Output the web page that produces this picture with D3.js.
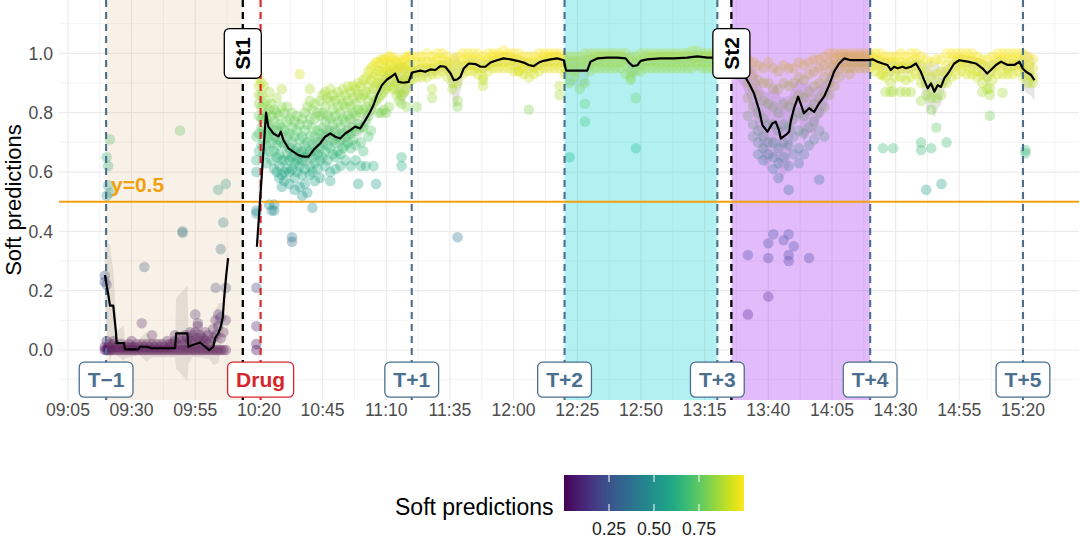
<!DOCTYPE html>
<html><head><meta charset="utf-8">
<script src="https://cdn.jsdelivr.net/npm/d3@7"></script>
<style>body{margin:0;background:#fff;} svg{display:block;font-family:"Liberation Sans",Arial,Helvetica,sans-serif;}</style>
</head><body><svg id="c" width="1080" height="540"></svg>
<script>
// ---------------- DATA (times are minutes since midnight) ----------------
const xTickLabels = ["09:05","09:30","09:55","10:20","10:45","11:10","11:35","12:00","12:25","12:50","13:15","13:40","14:05","14:30","14:55","15:20"];
const yTickValues = [0, 0.2, 0.4, 0.6, 0.8, 1.0];
const legendTickValues = [0.25, 0.5, 0.75];
const threshold = 0.5;

const markerNames = ["T\u22121","T+1","T+2","T+3","T+4","T+5"];
const markerTimes = ["09:20","11:20","12:20","13:20","14:20","15:20"];
const stageNames = ["St1","St2"];
const stageTimes = ["10:13:40","13:25:30"];
const drugName = "Drug";
const drugTime = "10:20:40";
const shadeStarts = ["09:20","12:20","13:25:30"];
const shadeEnds   = ["10:13:40","13:20","14:20"];

// rolling mean: [time, value, ribbon half-width]
const trendA = [[559.5,.253,.10],[560.8,.19,.17],[561.5,.15,.2],[562.8,.15,.12],[563.9,.057,.06],[564.1,.023,.04],[567.0,.023,.06],[567.4,.002,.03],[572.6,.002,.02],[573.3,.011,.03],[575.9,.011,.05],[577.9,.006,.03],[587.1,.006,.03],[587.5,.056,.12],[591.9,.056,.16],[592.3,.011,.06],[594.0,.017,.04],[596.9,.025,.05],[598.9,.011,.04],[600.5,0,.03],[602.1,.011,.06],[602.8,.04,.09],[604.1,.057,.1],[605.0,.079,.08],[605.8,.11,.05],[606.3,.17,.04],[607.1,.247,.03],[607.9,.31,.03]];
const trendB = [[619.2,.348,.03],[622.8,.80,.03],[623.7,.753,.03],[625.7,.73,.03],[627.7,.72,.03],[628.6,.736,.03],[629.6,.708,.03],[631.6,.68,.03],[633.6,.668,.03],[635.5,.657,.03],[637.5,.652,.03],[639.5,.652,.03],[641.4,.674,.03],[644.1,.697,.03],[646.0,.719,.03],[648.0,.73,.03],[650.0,.719,.03],[651.9,.713,.03],[653.9,.73,.03],[655.9,.741,.03],[657.8,.753,.03],[659.8,.747,.03],[661.8,.775,.03],[663.7,.803,.03],[665.0,.826,.03],[666.4,.86,.03],[668.3,.893,.03],[670.3,.912,.03],[672.2,.923,.03],[673.5,.932,.03],[674.8,.904,.06],[676.8,.901,.07],[678.8,.904,.04],[680.1,.935,.02],[681.4,.938,.02],[683.4,.942,.02],[685.3,.938,.02],[687.3,.946,.02],[689.3,.944,.02],[691.2,.957,.02],[693.2,.955,.02],[695.2,.933,.05],[696.5,.91,.09],[697.8,.912,.09],[699.1,.921,.05],[700.4,.949,.02],[702.4,.966,.02],[705.0,.964,.02],[707.0,.955,.02],[708.9,.955,.02],[710.9,.969,.02],[713.5,.977,.02],[716.1,.983,.02],[718.8,.98,.02],[721.4,.975,.02],[724.0,.969,.02],[725.9,.961,.02],[727.9,.957,.02],[729.9,.969,.02],[731.8,.975,.02],[734.5,.98,.02],[737.1,.983,.02],[739.7,.977,.02],[740.6,.942,.05],[748.9,.942,.05],[750.2,.972,.02],[752.8,.983,.02],[756.8,.986,.02],[760.7,.986,.02],[764.0,.983,.02],[765.3,.969,.03],[766.8,.957,.04],[768.6,.96,.03],[769.9,.975,.02],[772.5,.98,.02],[777.7,.983,.02],[782.9,.983,.02],[788.2,.986,.02],[792.1,.99,.02],[796.1,.986,.02],[798.0,.986,.02],[805,.975,.03],[810,.935,.05],[812.4,.899,.06],[814.4,.865,.08],[816.4,.809,.1],[817.7,.758,.12],[819.7,.736,.13],[821.6,.764,.12],[822.9,.77,.12],[824.2,.741,.13],[824.9,.713,.14],[826.9,.725,.13],[828.2,.736,.12],[828.8,.77,.1],[830.1,.815,.08],[831.7,.854,.06],[832.7,.831,.08],[834.0,.798,.1],[836.0,.815,.08],[838.0,.803,.08],[839.9,.831,.06],[841.9,.854,.05],[843.9,.893,.04],[845.8,.938,.03],[847.8,.966,.02],[849.8,.983,.02],[852.4,.977,.02],[859.0,.977,.02],[860.9,.98,.02],[862.9,.972,.02],[864.9,.966,.02],[866.8,.961,.02],[868.1,.944,.03],[869.4,.955,.02],[870.8,.95,.02],[872.7,.955,.02],[874.0,.95,.02],[876.0,.955,.02],[878.0,.966,.02],[879.9,.938,.04],[881.2,.91,.06],[882.6,.882,.08],[883.9,.899,.08],[885.2,.871,.09],[886.5,.893,.08],[887.8,.887,.06],[889.1,.916,.04],[891.0,.938,.03],[893.0,.966,.02],[895.0,.977,.02],[898.3,.972,.02],[901.5,.966,.02],[904.2,.949,.03],[905.9,.932,.04],[907.4,.944,.03],[909.4,.961,.02],[911.4,.972,.02],[914.0,.961,.02],[916.6,.961,.02],[918.6,.972,.02],[919.9,.949,.06],[921.2,.938,.07],[923.2,.927,.07],[924.5,.91,.07]];

// soft predictions: [time, value, value, ...]
const pointRows = [
[559.5,.25,.23,.01,0],[560.2,.52,.65,.22,.03,0],[560.8,.62,.555,.01,0],[561.5,.71,.53,0,.02],
[562,0,.01],[563,0,.02,.03],[564,0,.01],[565,0,.01],[566,0,.02],[567,0,.01],[568,0,.01],[569,0,.02],[570,0,.01,.03],[571,0,.01],[572,0,.02],[573,0,.01],[574,0,.02,.09],[575,0,.01,.28],[576,0,.02],[577,0,.01],[578,0,.02,.05],[579,0,.01],[580,0,.02],[581,0,.01],[582,0,.02],[583,0,.01],[584,0,.03],[585,0,.01,.02],[586,0,.02],[587,0,.03,.05],[588,0,.02],[589,0,.04,.74],[590,0,.02,.4,.395,.03],[591,0,.05],[592,0,.02,.04],[593,0,.03,.06],[594,0,.05,.03],[595,0,.02,.06,.12],[596,0,.04,.08,.09],[597,0,.03,.05],[598,0,.02,.04],[599,0,.06,.03],[600,0,.02,.05],[601,0,.03],[602,0,.04,.07],[603,0,.05,.21,.1],[604,0,.08,.12,.54],[605,0,.04,.11,.34],[606,0,.06,.43],[607,0,.1,.21,.56],
[619,.47,.46,.21,.08,.02,0,.64,.6,.72],[620,.92,.89,.86,.83,.79,.73,.67],[621,.9,.86,.82,.78,.75,.69],[622,.89,.83,.79,.74,.71,.66],[623,.84,.8,.78,.73,.69,.63],[624,.87,.81,.76,.72,.67,.49],[625,.83,.79,.74,.7,.64,.47],[626,.81,.77,.72,.67,.61,.49,.47],[627,.85,.8,.74,.69,.65,.6],[628,.79,.76,.71,.66,.62,.58],[629,.88,.82,.75,.7,.64,.59,.55],[630,.8,.74,.69,.64,.6,.57],[631,.82,.77,.72,.66,.61],[632,.78,.73,.68,.64,.6,.56],[633,.8,.75,.7,.65,.61,.38,.365],[634,.77,.72,.67,.63,.58,.54],[635,.79,.74,.68,.64,.6],[636,.93,.76,.71,.66,.62,.55],[637,.78,.72,.67,.64,.59,.52],[638,.8,.74,.69,.65,.61,.56],[639,.82,.76,.7,.66,.53],[640,.88,.84,.78,.72,.67,.62,.59],[641,.81,.75,.69,.65,.6,.48],[642,.83,.78,.72,.67,.63,.57],[643,.8,.74,.7,.66,.61],[644,.84,.79,.73,.68,.64,.58],[645,.86,.8,.75,.7,.65],[646,.87,.82,.77,.72,.67,.62],[647,.85,.79,.74,.69,.64],[648,.88,.84,.78,.73,.68,.6,.57],[649,.86,.81,.76,.71,.66],[650,.84,.79,.74,.7,.65,.61],[651,.87,.82,.77,.72,.67],[652,.85,.8,.75,.71,.66,.62],[653,.88,.83,.78,.73,.68],[654,.86,.82,.77,.72,.69,.64],[655,.89,.84,.79,.74,.7],[656,.87,.82,.78,.73,.68,.62],[657,.89,.85,.8,.75,.71],[658,.88,.83,.79,.74,.69,.64],[659,.9,.86,.81,.76,.56],[660,.89,.85,.8,.75,.7,.62],[661,.91,.86,.81,.75,.67],[662,.92,.87,.82,.77,.62],[663,.94,.89,.84,.79,.72],[664,.95,.91,.86,.81,.74],[665,.96,.92,.88,.83,.62],[666,.97,.93,.89,.84,.56],[667,.97,.94,.9,.85,.8],[668,.98,.94,.9,.86,.8],[669,.98,.95,.91,.87,.81],[670,.98,.95,.92,.88,.8],[671,.99,.96,.93,.89,.82],[672,.99,.96,.93,.89],[673,.98,.95,.92,.88],[674,.97,.94,.9,.86],[675,.98,.95,.91,.87,.84],[676,.97,.94,.9,.86,.83,.65,.62],[677,.98,.95,.91,.87],[678,.99,.96,.92,.88,.82],[679,.99,.96,.93,.9],
[680,.99,.96,.94,.91],[682,.99,.97,.94,.92,.82],[684,.99,.97,.95,.92],[686,1.0,.97,.95,.92],[688,.99,.97,.95,.93,.85,.88],[690,1.0,.98,.96,.93],[692,1.0,.98,.96,.94],[694,.99,.97,.95,.92],[696,.98,.96,.93,.9,.88],[698,.99,.96,.93,.9,.84,.82,.38],[700,1.0,.98,.96,.93],[702,1.0,.98,.96,.94],[704,1.0,.98,.96,.94],[706,1.0,.98,.95,.93],[708,.99,.97,.95,.92,.89,.91],[710,1.0,.98,.96,.94],[712,1.0,.99,.97,.95],[714,1.0,.99,.97,.95],[716,1.01,.99,.97,.95],[718,1.0,.99,.97,.95],[720,1.0,.98,.96,.94],[722,1.0,.98,.96,.94,.94],[724,.99,.97,.95,.93],[726,.99,.97,.95,.92,.81],[728,.99,.97,.95,.93],[730,1.0,.98,.96,.94],[732,1.0,.99,.97,.95],[734,1.0,.99,.97,.95],[736,1.0,.99,.97,.95],[738,1.0,.99,.97,.95,.89,.86],[740,.99,.97,.95,.93],
[742,.99,.97,.95,.9,.65],[744,.99,.97,.94,.92],[746,.99,.97,.95,.88],[748,1.0,.98,.96,.83,.77,.9],[750,1.0,.98,.96,.94],[752,1.0,.99,.97,.95],[754,1.0,.99,.97,.95],[756,1.0,.99,.97,.95],[758,1.0,.99,.97,.95],[760,1.0,.99,.97,.95],[762,1.0,.99,.97,.95],[764,1.0,.98,.96,.93],[766,.99,.97,.94,.92,.91],[768,.99,.97,.94,.85,.68],[770,1.0,.98,.96,.94],[772,1.0,.99,.97,.95],[774,1.0,.99,.97,.95],[776,1.0,.99,.97,.95],[778,1.0,.99,.97,.95],[780,1.0,.99,.97,.95],[782,1.0,.99,.97,.95],[784,1.0,.99,.97,.95],[786,1.0,.99,.97,.95],[788,1.0,.99,.97,.95],[790,1.01,.99,.97,.95],[792,1.01,.99,.97,.96],[794,1.0,.99,.97,.95],[796,1.0,.99,.97,.95],[798,1.0,.99,.97,.95],[800,1.0,.98,.96],
[812,.98,.95,.9,.85,.79,.32,.12],[814,.97,.93,.88,.82,.76,.72],[816,.96,.91,.86,.8,.74,.7,.66],[818,.95,.9,.84,.78,.72,.68,.64],[820,.97,.9,.83,.76,.7,.66,.36,.18,.31],[822,.95,.88,.82,.76,.7,.65,.61,.39],[824,.94,.88,.8,.74,.68,.63,.58],[826,.96,.9,.83,.76,.7,.65,.37],[828,.95,.89,.82,.75,.69,.62,.54,.39,.32,.30],[830,.95,.9,.84,.78,.72,.66,.35],[832,.97,.92,.86,.8,.74,.68,.63],[834,.96,.91,.85,.79,.73,.66],[836,.97,.93,.87,.81,.75,.69,.31],[838,.98,.94,.89,.83,.77,.71],[840,.98,.95,.9,.85,.8,.74,.575],[842,.99,.96,.92,.87,.82,.72],[844,1.0,.97,.94,.9,.86],[846,1.0,.98,.96,.93,.89],[848,1.0,.99,.97,.95,.92],[850,1.0,.99,.97,.95],[852,1.0,.99,.97,.95,.93],[854,1.0,.99,.97,.95],[856,1.0,.99,.97,.95],[858,1.0,.99,.97,.95],[860,1.0,.99,.97,.95],
[862,1.0,.98,.96,.94],[864,1.0,.98,.96,.93],[865,.927,.68],[866,.99,.97,.95,.92,.87],[868,.99,.97,.94,.9,.87],[869,.68,.871],[870,.99,.97,.95,.92],[872,1.0,.97,.95,.92,.871],[874,.99,.97,.95,.91,.87],[876,1.0,.97,.95,.92,.87],[878,1.0,.98,.96,.93],[880,.99,.96,.93,.9,.84,.7,.674],[882,.98,.94,.9,.86,.54],[884,.97,.92,.88,.85,.81,.68],[886,.98,.93,.89,.85,.75],[888,.98,.94,.9,.86,.56],[890,1.0,.96,.93,.9,.7],[892,1.0,.98,.95,.92],[894,1.0,.98,.96,.93],[896,1.0,.98,.96,.94],[898,1.0,.98,.96,.93],[900,1.0,.98,.95,.93],[902,.99,.97,.94,.92],[904,.98,.96,.93,.9,.87],[906,.98,.95,.92,.88],[907,.79,.882,.86],[908,.99,.96,.94,.91],[910,1.0,.98,.96,.93],[912,1.0,.98,.96,.93,.867],[914,1.0,.98,.95,.93],[916,1.0,.98,.96,.93],[918,1.0,.98,.96,.94],[920,1.0,.97,.95,.92],[921,.674,.663],[922,.99,.96,.93,.9],[924,.98,.95,.92,.9]
];

// ---------------- DRAWING ----------------
const svg = d3.select("#c");
const PL = 59, PR = 1079, PT = 0, PB = 400;
const toDate = m => new Date(2000, 0, 1, 0, 0, Math.round(m * 60));
const hm = s => { const p = s.split(":").map(Number); return p[0] * 60 + p[1] + (p[2] || 0) / 60; };
const x = d3.scaleTime().domain([toDate(541.5), toDate(942)]).range([PL, PR]);
const y = d3.scaleLinear().domain([-0.1685, 1.18]).range([PB, PT]);
const color = d3.scaleSequential(d3.interpolateViridis).domain([0, 1]).clamp(true);
const X = m => x(toDate(m));

svg.append("defs").append("clipPath").attr("id", "panel")
  .append("rect").attr("x", PL).attr("y", PT).attr("width", PR - PL).attr("height", PB - PT);

// grid
const grid = svg.append("g").attr("clip-path", "url(#panel)");
const xMajor = xTickLabels.map(hm);
const xMinor = xMajor.map(m => m + 12.5).concat([xMajor[0] - 12.5]);
const yMinor = d3.range(-0.1, 1.15, 0.2);
grid.selectAll(".vmin").data(xMinor).join("line")
  .attr("x1", X).attr("x2", X).attr("y1", PT).attr("y2", PB).attr("stroke", "#ebebeb").attr("stroke-width", 0.6);
grid.selectAll(".hmin").data(yMinor).join("line")
  .attr("x1", PL).attr("x2", PR).attr("y1", d => y(d)).attr("y2", d => y(d)).attr("stroke", "#ebebeb").attr("stroke-width", 0.6);
grid.selectAll(".vmaj").data(xMajor).join("line")
  .attr("x1", X).attr("x2", X).attr("y1", PT).attr("y2", PB).attr("stroke", "#ebebeb").attr("stroke-width", 1.2);
grid.selectAll(".hmaj").data(yTickValues).join("line")
  .attr("x1", PL).attr("x2", PR).attr("y1", d => y(d)).attr("y2", d => y(d)).attr("stroke", "#ebebeb").attr("stroke-width", 1.2);

const plot = svg.append("g").attr("clip-path", "url(#panel)");

// ribbon
const area = d3.area().x(d => X(d[0])).y0(d => y(d[1] - d[2])).y1(d => y(d[1] + d[2]));
[trendA, trendB].forEach(seg => plot.append("path").attr("d", area(seg)).attr("fill", "#c8c8c8").attr("fill-opacity", 0.45));

// points
const pts = pointRows.flatMap(r => r.slice(1).map(v => ({ t: r[0], v })));
plot.append("g").selectAll("circle").data(pts).join("circle")
  .attr("cx", d => X(d.t)).attr("cy", d => y(d.v)).attr("r", 5.3)
  .attr("fill", d => color(d.v)).attr("fill-opacity", 0.34);

// shaded periods
const shadeFill = ["rgb(222,184,135)", "rgb(0,206,209)", "rgb(160,32,240)"];
const shadeOp = [0.2, 0.3, 0.3];
plot.selectAll(".shade").data(shadeStarts).join("rect")
  .attr("x", (d, i) => X(hm(d))).attr("width", (d, i) => X(hm(shadeEnds[i])) - X(hm(d)))
  .attr("y", PT).attr("height", PB - PT)
  .attr("fill", (d, i) => shadeFill[i]).attr("fill-opacity", (d, i) => shadeOp[i]);

// threshold
const orange = "#F2A10D";
plot.append("line").attr("x1", PL).attr("x2", PR).attr("y1", y(threshold)).attr("y2", y(threshold))
  .attr("stroke", orange).attr("stroke-width", 2);

// vertical markers
const steel = "#4b6f8e";
plot.selectAll(".tl").data(markerTimes).join("line")
  .attr("x1", d => X(hm(d))).attr("x2", d => X(hm(d))).attr("y1", PT).attr("y2", PB)
  .attr("stroke", steel).attr("stroke-width", 2.1).attr("stroke-dasharray", "7,5");
plot.selectAll(".sl").data(stageTimes).join("line")
  .attr("x1", d => X(hm(d))).attr("x2", d => X(hm(d))).attr("y1", PT).attr("y2", PB)
  .attr("stroke", "#000").attr("stroke-width", 2.3).attr("stroke-dasharray", "7,5");
const red = "#D6262B";
plot.append("line").attr("x1", X(hm(drugTime))).attr("x2", X(hm(drugTime))).attr("y1", PT).attr("y2", PB)
  .attr("stroke", red).attr("stroke-width", 2.1).attr("stroke-dasharray", "7,5");

// trend line
const line = d3.line().x(d => X(d[0])).y(d => y(d[1]));
[trendA, trendB].forEach(seg => plot.append("path").attr("d", line(seg)).attr("fill", "none")
  .attr("stroke", "#000").attr("stroke-width", 2.2).attr("stroke-linejoin", "round"));

// axes text
const axisCol = "#4d4d4d";
svg.append("g").selectAll("text").data(xTickLabels).join("text")
  .attr("x", d => X(hm(d))).attr("y", 416).attr("text-anchor", "middle")
  .attr("font-size", 17.6).attr("fill", axisCol).text(d => d);
svg.append("g").selectAll("text").data(yTickValues).join("text")
  .attr("x", 53).attr("y", d => y(d)).attr("dy", "0.36em").attr("text-anchor", "end")
  .attr("font-size", 17.6).attr("fill", axisCol).text(d => d3.format(".1f")(d));
svg.append("text").attr("transform", `translate(21,${(PT + PB) / 2}) rotate(-90)`)
  .attr("text-anchor", "middle").attr("font-size", 22).attr("fill", "#000").text("Soft predictions");

// y=0.5 text
svg.append("text").attr("x", 111).attr("y", 192).attr("font-size", 21).attr("font-weight", "bold")
  .attr("fill", orange).text("y=" + threshold);

// label boxes
function box(cx, cy, label, col, rotate) {
  const g = svg.append("g").attr("transform", `translate(${cx},${cy})${rotate ? " rotate(-90)" : ""}`);
  const r = g.append("rect").attr("fill", "#fff").attr("stroke", col).attr("stroke-width", 1.3).attr("rx", 5);
  const t = g.append("text").attr("text-anchor", "middle").attr("dy", "0.36em").attr("font-size", 21)
    .attr("font-weight", "bold").attr("fill", col).text(label);
  const w = t.node().getComputedTextLength() + 17;
  const h = rotate ? 37 : 35;
  r.attr("x", -w / 2).attr("y", -h / 2).attr("width", w).attr("height", h);
}
markerTimes.forEach((m, i) => box(X(hm(m)), y(-0.1), markerNames[i], steel, false));
box(X(hm(drugTime)), y(-0.1), drugName, red, false);
stageTimes.forEach((m, i) => box(X(hm(m)), y(1.0), stageNames[i], "#000", true));

// legend
const lg = svg.append("g");
const grad = svg.select("defs").append("linearGradient").attr("id", "vir");
d3.range(0, 1.0001, 0.05).forEach(v => grad.append("stop").attr("offset", v).attr("stop-color", color(v)));
const lx = d3.scaleLinear().domain([0, 1]).range([564, 744]);
lg.append("text").attr("x", 395).attr("y", 515).attr("font-size", 23).attr("fill", "#000").text("Soft predictions");
lg.append("rect").attr("x", lx(0)).attr("y", 475).attr("width", lx(1) - lx(0)).attr("height", 36).attr("fill", "url(#vir)");
legendTickValues.forEach(v => {
  lg.append("line").attr("x1", lx(v)).attr("x2", lx(v)).attr("y1", 475).attr("y2", 482).attr("stroke", "#fff").attr("stroke-width", 1);
  lg.append("line").attr("x1", lx(v)).attr("x2", lx(v)).attr("y1", 504).attr("y2", 511).attr("stroke", "#fff").attr("stroke-width", 1);
});
lg.selectAll(".lt").data(legendTickValues).join("text").attr("x", d => lx(d)).attr("y", 535)
  .attr("text-anchor", "middle").attr("font-size", 17.6).attr("fill", "#222").text(d => d3.format(".2f")(d));
</script></body></html>
